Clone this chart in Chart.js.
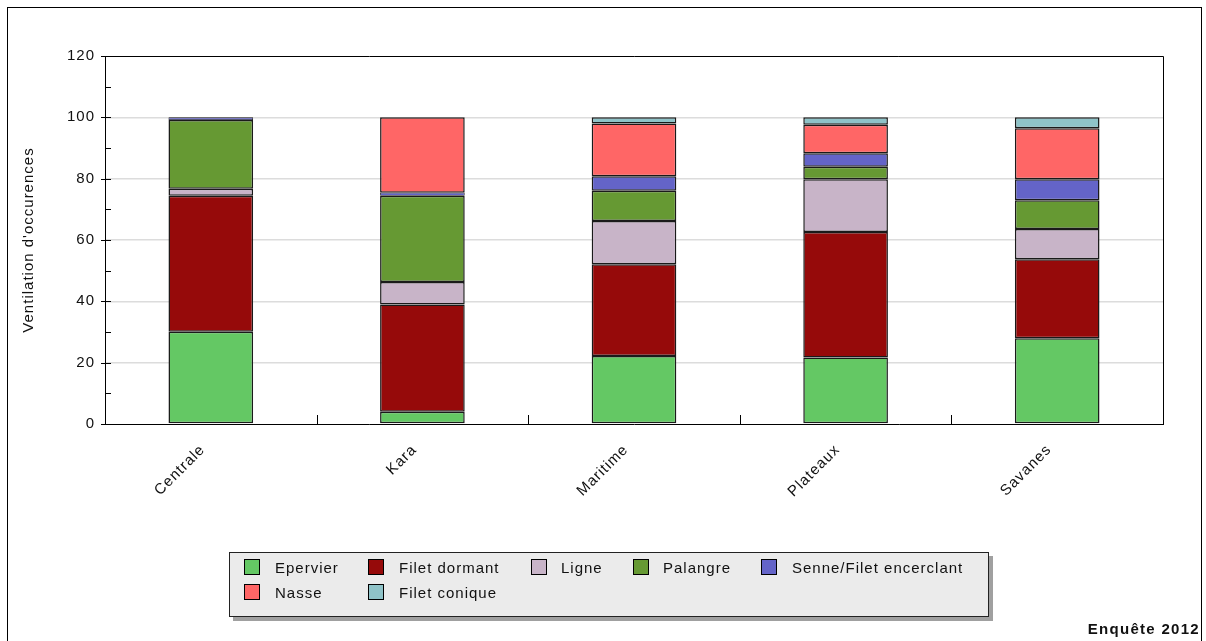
<!DOCTYPE html>
<html><head><meta charset="utf-8">
<script src="https://cdn.jsdelivr.net/npm/chart.js@4/dist/chart.umd.min.js"></script>
<style>
html,body{margin:0;padding:0;background:#fff;}
#wrap{position:relative;width:1206px;height:641px;overflow:hidden;font-family:"Liberation Sans",Arial,sans-serif;}
#frame{position:absolute;left:7px;top:7px;width:1195px;height:700px;border:1.5px solid #000;box-sizing:border-box;}
#c{position:absolute;left:0;top:0;}
#legend{position:absolute;left:229px;top:552px;width:760px;height:65px;background:#ebebeb;border:1px solid #222;box-shadow:4px 4px 0 #a0a0a0;box-sizing:border-box;}
.item{position:absolute;font-size:15px;letter-spacing:1px;color:#111;line-height:16px;white-space:nowrap;}
.sw{position:absolute;width:16px;height:16px;border:1px solid #000;box-sizing:border-box;}
#note{position:absolute;right:6px;top:620px;font-weight:bold;font-size:15px;letter-spacing:1.3px;color:#111;}
</style></head>
<body>
<div id="wrap">
  <div id="frame"></div>
  <canvas id="c" width="1206" height="641"></canvas>
  <div id="legend"></div>
  <div id="note">Enquête 2012</div>
</div>
<script>
const categories = ['Centrale', 'Kara', 'Maritime', 'Plateaux', 'Savanes'];
const seriesNames = ['Epervier', 'Filet dormant', 'Ligne', 'Palangre', 'Senne/Filet encerclant', 'Nasse', 'Filet conique'];
const epervier     = [30.1, 4.0, 22.2, 21.7, 28.0];
const filetDormant = [44.3, 35.0, 29.9, 40.9, 25.7];
const ligne        = [2.3, 7.3, 14.1, 17.2, 9.9];
const palangre     = [22.4, 28.1, 9.9, 4.1, 9.4];
const senne        = [0.9, 1.0, 4.7, 4.4, 6.8];
const nasse        = [null, 24.6, 17.2, 9.3, 16.6];
const filetConique = [null, null, 2.0, 2.4, 3.6];
const yTicks = [0, 20, 40, 60, 80, 100, 120];
const colors = ['#64c864', '#960a0a', '#c8b4c8', '#669933', '#6464c8', '#ff6666', '#8fc3c8'];
const values = [epervier, filetDormant, ligne, palangre, senne, nasse, filetConique];

const datasets = seriesNames.map((n, i) => ({
  label: n, data: values[i], backgroundColor: colors[i],
  borderColor: '#1a1a1a',
  borderWidth: c => (c.raw != null && c.raw < 2) ? 0.8 : 1.5,
  borderSkipped: false,
  barPercentage: 0.4, categoryPercentage: 1
}));

const deco = {
  id: 'deco',
  beforeUpdate(chart){ chart.ctx.letterSpacing = '1px'; },
  beforeDraw(chart){ chart.ctx.letterSpacing = '1px'; },
  afterDraw(chart){
    const ctx = chart.ctx, a = chart.chartArea, y = chart.scales.y, x = chart.scales.x;
    ctx.save();
    ctx.strokeStyle = '#000'; ctx.lineWidth = 1;
    ctx.beginPath();
    ctx.moveTo(a.left, a.top + 0.5); ctx.lineTo(a.right + 0.5, a.top + 0.5); ctx.lineTo(a.right + 0.5, a.bottom);
    for (let v = 0; v <= 120; v += 10) {
      const py = Math.round(y.getPixelForValue(v)) + 0.5;
      if (v % 20 === 0) { ctx.moveTo(a.left - 4, py); ctx.lineTo(a.left + 6, py); }
      else { ctx.moveTo(a.left, py); ctx.lineTo(a.left + 6, py); }
    }
    for (let i = 0; i < categories.length - 1; i++) {
      const px = Math.round((x.getPixelForValue(i) + x.getPixelForValue(i + 1)) / 2) + 0.5;
      ctx.moveTo(px, a.bottom); ctx.lineTo(px, a.bottom - 9);
    }
    ctx.stroke();
    ctx.restore();
  }
};

new Chart(document.getElementById('c'), {
  type: 'bar',
  data: { labels: categories, datasets },
  options: {
    responsive: false, animation: false,
    layout: { padding: { left: 16, top: 56, right: 43, bottom: 0 } },
    plugins: { legend: { display: false }, tooltip: { enabled: false } },
    scales: {
      x: {
        stacked: true,
        grid: { display: false },
        border: { color: '#000', width: 1 },
        ticks: { maxRotation: 45, minRotation: 45, padding: 9, labelOffset: -8, color: '#111',
                 font: { family: '"Liberation Sans", Arial, sans-serif', size: 15 } },
        afterFit(s){ s.height = 217; }
      },
      y: {
        stacked: true, min: 0, max: 120,
        afterBuildTicks(s){ s.ticks = yTicks.map(v => ({ value: v })); },
        ticks: { padding: 10, color: '#111',
                 font: { family: '"Liberation Sans", Arial, sans-serif', size: 15 } },
        grid: { drawTicks: false, color: c => (c.tick && c.tick.value > 0 && c.tick.value < 120) ? '#dcdcdc' : 'rgba(0,0,0,0)', lineWidth: 1.5 },
        border: { color: '#000', width: 1 },
        title: { display: true, text: "Ventilation d'occurences", color: '#111',
                 font: { family: '"Liberation Sans", Arial, sans-serif', size: 15 } },
        afterFit(s){ s.width = 89; }
      }
    }
  },
  plugins: [deco]
});

// legend built from the same arrays
const legend = document.getElementById('legend');
const swX = [14, 138, 301, 403, 531], txX = [45, 169, 331, 433, 562];
seriesNames.forEach((n, i) => {
  const col = i % 5, row = Math.floor(i / 5);
  const sw = document.createElement('div');
  sw.className = 'sw'; sw.style.background = colors[i];
  sw.style.left = swX[col] + 'px'; sw.style.top = (6 + row * 25) + 'px';
  legend.appendChild(sw);
  const t = document.createElement('div');
  t.className = 'item'; t.textContent = n;
  t.style.left = txX[col] + 'px'; t.style.top = (7 + row * 25) + 'px';
  legend.appendChild(t);
});
</script>
</body></html>
